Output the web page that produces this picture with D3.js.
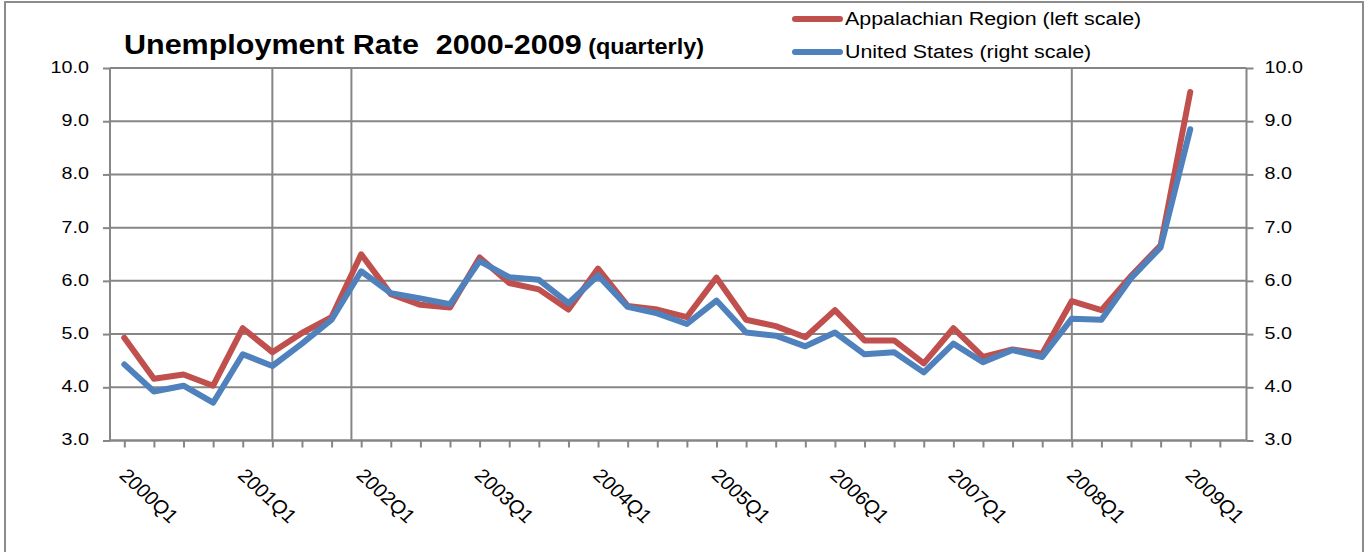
<!DOCTYPE html>
<html>
<head>
<meta charset="utf-8">
<script src="https://cdn.jsdelivr.net/npm/d3@7"></script>
<style>
  html, body { margin: 0; padding: 0; background: #fff; }
  svg { display: block; }
  text { font-family: "Liberation Sans", Arial, sans-serif; fill: #000; }
</style>
</head>
<body>
<svg id="chart" width="1367" height="552"></svg>
<script>
// ---- data ----
const quarters = ["2000Q1","2000Q2","2000Q3","2000Q4","2001Q1","2001Q2","2001Q3","2001Q4",
  "2002Q1","2002Q2","2002Q3","2002Q4","2003Q1","2003Q2","2003Q3","2003Q4",
  "2004Q1","2004Q2","2004Q3","2004Q4","2005Q1","2005Q2","2005Q3","2005Q4",
  "2006Q1","2006Q2","2006Q3","2006Q4","2007Q1","2007Q2","2007Q3","2007Q4",
  "2008Q1","2008Q2","2008Q3","2008Q4","2009Q1"];
const appalachian = [4.93,4.16,4.24,4.03,5.11,4.66,5.02,5.32,6.50,5.75,5.55,5.50,6.44,5.96,5.84,5.46,
  6.23,5.53,5.46,5.32,6.06,5.27,5.15,4.94,5.45,4.88,4.88,4.45,5.11,4.57,4.71,4.63,5.62,5.45,6.09,6.67,9.55];
const unitedStates = [4.43,3.92,4.03,3.71,4.62,4.40,4.82,5.27,6.18,5.77,5.67,5.56,6.37,6.07,6.02,5.58,
  6.10,5.51,5.39,5.19,5.63,5.03,4.97,4.77,5.03,4.62,4.66,4.28,4.82,4.47,4.70,4.57,5.29,5.27,6.05,6.63,8.85];
const xTickLabels = ["2000Q1","2001Q1","2002Q1","2003Q1","2004Q1","2005Q1","2006Q1","2007Q1","2008Q1","2009Q1"];
const yTicks = [3,4,5,6,7,8,9,10];
const markerLines = [5, 7.67, 32]; // vertical reference lines, in quarter-index units
const seriesNames = ["Appalachian Region (left scale)", "United States (right scale)"];
const seriesColors = ["#C0504D", "#4F81BD"];

(function () {
// ---- layout ----
const svg = d3.select("#chart");
const pLeft = 110, pRight = 1246.5, pTop = 68, pBottom = 440.5;
const SX = 1.16; // horizontal stretch of the text in the reference
const grid = "#868686";

const idx = quarters.map((q, i) => i);
const x = d3.scaleLinear().domain([-0.5, 37.9]).range([109.5, pRight]);
const yL = d3.scaleLinear().domain([3, 10]).range([pBottom, pTop]);
const yR = d3.scaleLinear().domain([3, 10]).range([pBottom, pTop]);

// outer frame
svg.append("rect").attr("x", 5).attr("y", 2).attr("width", 1358).attr("height", 620)
  .attr("fill", "none").attr("stroke", "#8c8c8c").attr("stroke-width", 2);

// horizontal gridlines
svg.append("g").selectAll("line").data(yTicks).join("line")
  .attr("x1", pLeft).attr("x2", pRight)
  .attr("y1", d => yL(d)).attr("y2", d => yL(d))
  .attr("stroke", grid).attr("stroke-width", 2);

// vertical marker lines
svg.append("g").selectAll("line").data(markerLines).join("line")
  .attr("x1", d => x(d)).attr("x2", d => x(d))
  .attr("y1", pTop).attr("y2", pBottom)
  .attr("stroke", grid).attr("stroke-width", 2);

// left axis
const gL = svg.append("g").attr("transform", `translate(${pLeft},0)`)
  .call(d3.axisLeft(yL).tickValues(yTicks).tickSize(7).tickPadding(0).tickFormat(d3.format(".1f")));
gL.select(".domain").attr("stroke", grid).attr("stroke-width", 2).attr("d", `M0,${pTop}V${pBottom}`);
gL.selectAll(".tick line").attr("stroke", grid).attr("stroke-width", 2);
gL.selectAll(".tick text").attr("x", null).attr("dy", null)
  .attr("text-anchor", "end").attr("dominant-baseline", "middle")
  .style("font-size", "17px").attr("fill", "#000")
  .attr("transform", `translate(-21,0) scale(${SX},1)`);

// right axis
const gR = svg.append("g").attr("transform", `translate(${pRight},0)`)
  .call(d3.axisRight(yR).tickValues(yTicks).tickSize(7).tickPadding(0).tickFormat(d3.format(".1f")));
gR.select(".domain").attr("stroke", grid).attr("stroke-width", 2).attr("d", `M0,${pTop}V${pBottom}`);
gR.selectAll(".tick line").attr("stroke", grid).attr("stroke-width", 2);
gR.selectAll(".tick text").attr("x", null).attr("dy", null)
  .attr("text-anchor", "start").attr("dominant-baseline", "middle")
  .style("font-size", "17px").attr("fill", "#000")
  .attr("transform", `translate(18,0) scale(${SX},1)`);

// bottom axis
const gB = svg.append("g").attr("transform", `translate(0,${pBottom})`)
  .call(d3.axisBottom(x).tickValues(d3.range(0, 38)).tickSize(7).tickFormat(() => ""));
gB.select(".domain").attr("stroke", grid).attr("stroke-width", 2).attr("d", `M${pLeft},0H${pRight}`);
gB.selectAll(".tick line").attr("stroke", grid).attr("stroke-width", 2);

// rotated category labels
svg.append("g").selectAll("text").data(xTickLabels).join("text")
  .attr("transform", d => `translate(${x(quarters.indexOf(d)) - 6},${pBottom + 36}) scale(1.08,1) rotate(45)`)
  .attr("text-anchor", "start")
  .style("font-size", "19px")
  .text(d => d);

// lines
const series = [appalachian, unitedStates];
const scales = [yL, yR];
series.forEach((vals, s) => {
  const line = d3.line().x(i => x(i)).y(i => scales[s](vals[i]));
  svg.append("path").datum(idx)
    .attr("d", line)
    .attr("fill", "none")
    .attr("stroke", seriesColors[s])
    .attr("stroke-width", 6)
    .attr("stroke-linejoin", "round")
    .attr("stroke-linecap", "round");
});

// title
const title = svg.append("text")
  .attr("transform", `translate(124,54) scale(1.09,1)`)
  .style("font-weight", "bold")
  .style("white-space", "pre");
title.append("tspan").style("font-size", "28px").text("Unemployment Rate  2000-2009");
title.append("tspan").style("font-size", "21.5px").text(" (quarterly)");

// legend
const legendY = [19, 52];
const lg = svg.append("g").selectAll("g").data(seriesNames).join("g")
  .attr("transform", (d, i) => `translate(795,${legendY[i]})`);
lg.append("line").attr("x1", 0).attr("x2", 45).attr("y1", 0).attr("y2", 0)
  .attr("stroke", (d, i) => seriesColors[i]).attr("stroke-width", 6).attr("stroke-linecap", "round");
lg.append("text")
  .attr("transform", `translate(50,1) scale(1.19,1)`)
  .attr("dominant-baseline", "middle")
  .style("font-size", "18px")
  .text(d => d);
})();
</script>
</body>
</html>
